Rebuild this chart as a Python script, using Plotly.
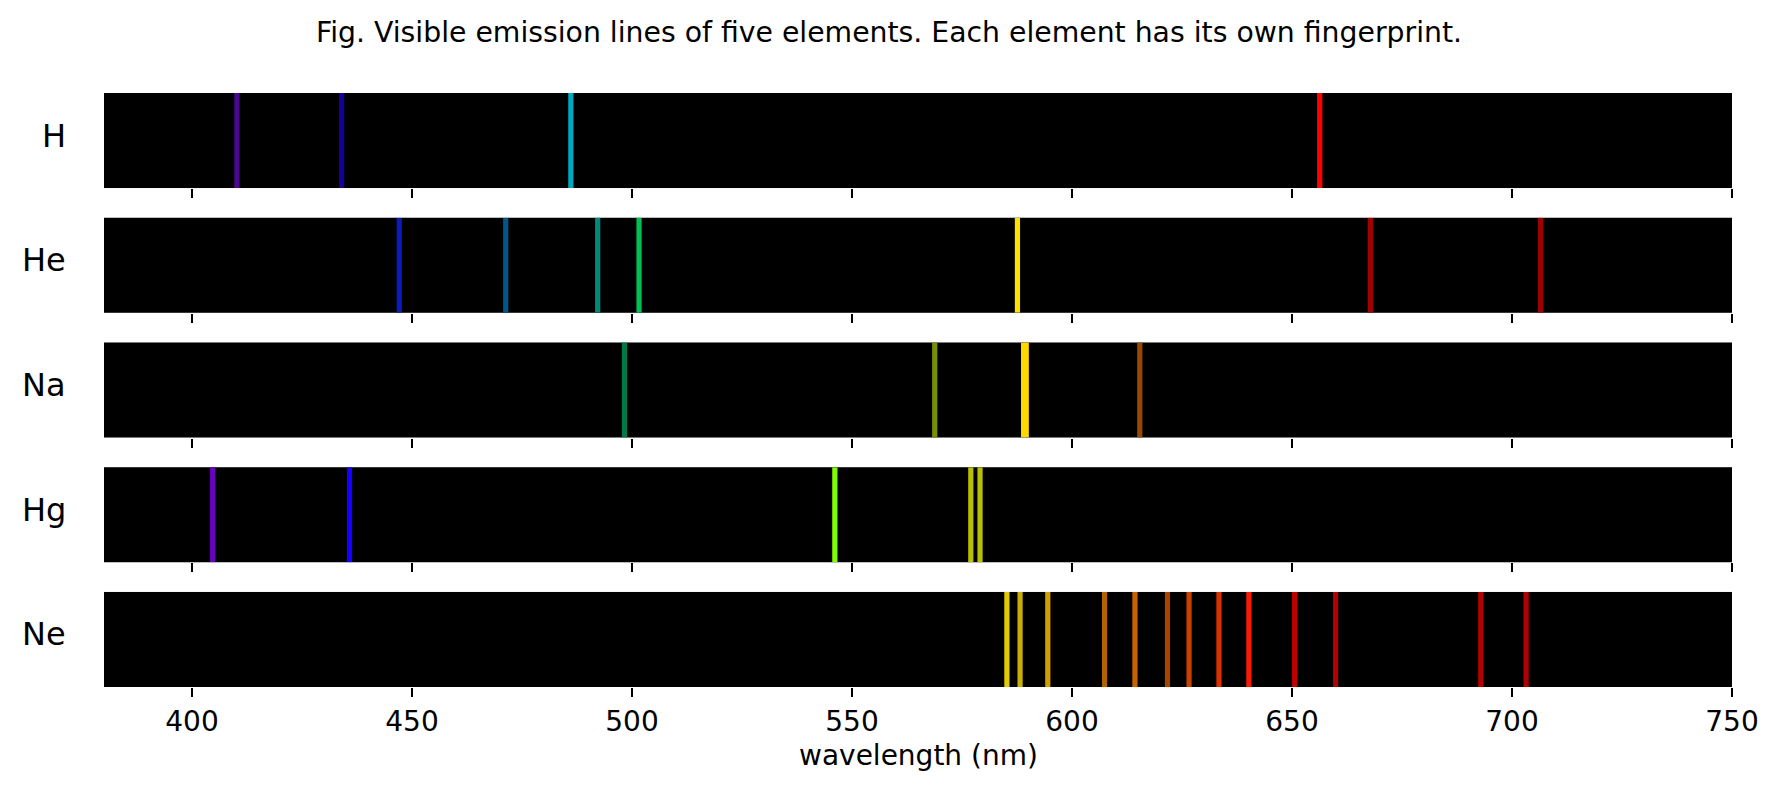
import plotly.graph_objects as go
from plotly.subplots import make_subplots

# ---- data ----
elements = ["H", "He", "Na", "Hg", "Ne"]

h_nm = [410.2, 434.0, 486.1, 656.3]
h_col = ["#4c0890", "#16009c", "#00a8c0", "#ff0000"]

he_nm = [447.1, 471.3, 492.2, 501.6, 587.6, 667.8, 706.5]
he_col = ["#0a1cb8", "#00588a", "#008878", "#00c050", "#ffe000", "#a40000", "#9c0000"]

na_nm = [498.3, 568.8, 589.0, 589.6, 615.4]
na_col = ["#007848", "#789000", "#ffd800", "#ffd800", "#9a4800"]

hg_nm = [404.7, 435.8, 546.1, 577.0, 579.1]
hg_col = ["#6a00c0", "#1400ff", "#80ff00", "#b8c000", "#b8c000"]

ne_nm = [585.2, 588.2, 594.5, 607.4, 614.3, 621.7, 626.6, 633.4, 640.2,
         650.6, 659.9, 692.9, 703.2]
ne_col = ["#e0cc00", "#c8b000", "#d4a000", "#b06400", "#c86400", "#a84400",
          "#c84000", "#dc3000", "#ff1800", "#c00000", "#b00000", "#b40000", "#b00000"]

lines_nm = [h_nm, he_nm, na_nm, hg_nm, ne_nm]
lines_col = [h_col, he_col, na_col, hg_col, ne_col]

x_ticks = [400, 450, 500, 550, 600, 650, 700, 750]
x_range = [380, 750]

title_text = "Fig. Visible emission lines of five elements. Each element has its own fingerprint."
x_title = "wavelength (nm)"

FONT = "DejaVu Sans"
W, H = 1770, 785  # page body has an 8px default margin

fig = make_subplots(rows=5, cols=1, vertical_spacing=0.05, shared_xaxes=False)

for i, (nms, cols) in enumerate(zip(lines_nm, lines_col)):
    row = i + 1
    for w, c in zip(nms, cols):
        fig.add_trace(
            go.Scatter(x=[w, w], y=[0, 1], mode="lines",
                       line=dict(color=c, width=5.2),
                       showlegend=False, hoverinfo="x"),
            row=row, col=1)
    fig.update_xaxes(range=x_range, tickvals=x_ticks,
                     ticks="outside", ticklen=9, tickwidth=2, tickcolor="black",
                     showticklabels=(row == 5), showgrid=False, zeroline=False,
                     showline=False,
                     tickfont=dict(family=FONT, size=28, color="black"),
                     row=row, col=1)
    fig.update_yaxes(range=[0, 1], showticklabels=False, ticks="", showgrid=False,
                     zeroline=False, showline=False, row=row, col=1)

annotations = []
for i, el in enumerate(elements):
    yax = "y domain" if i == 0 else f"y{i+1} domain"
    annotations.append(dict(text=el, xref="paper", yref=yax, x=0, y=0.5,
                            xanchor="right", yanchor="middle", xshift=-36, yshift=5,
                            showarrow=False,
                            font=dict(family=FONT, size=32, color="black")))
annotations.append(dict(text=x_title, xref="paper", yref="paper", x=0.5, y=0,
                        xanchor="center", yanchor="middle", yshift=-68,
                        showarrow=False,
                        font=dict(family=FONT, size=28, color="black")))

fig.update_layout(
    width=W, height=H,
    margin=dict(l=96, r=46, t=85, b=106),
    paper_bgcolor="white",
    plot_bgcolor="black",
    title=dict(text=title_text, x=881 / W, xanchor="center", xref="container",
               y=1 - 24 / H, yanchor="middle", yref="container",
               font=dict(family=FONT, size=28.3, color="black")),
    annotations=annotations,
)

fig.write_html("out.html")
